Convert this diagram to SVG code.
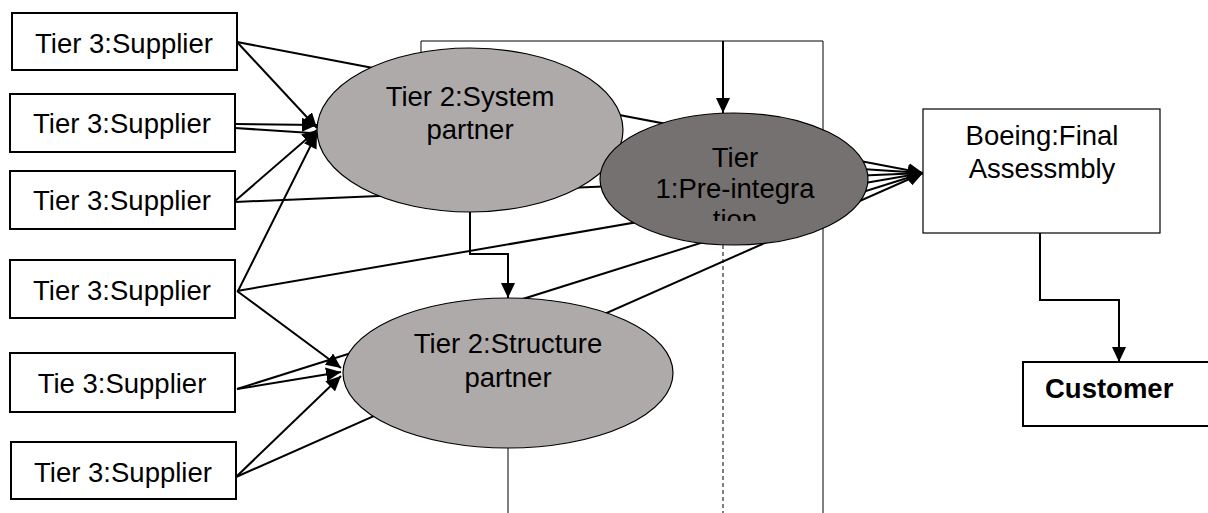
<svg xmlns="http://www.w3.org/2000/svg" width="1208" height="513" viewBox="0 0 1208 513">
<style>
.box{fill:#fff;stroke:#000;stroke-width:2}
.thinbox{fill:#fff;stroke:#000;stroke-width:1.2}
.lbl{font-family:"Liberation Sans",Arial,sans-serif;font-size:27.5px;fill:#000}
.c{text-anchor:middle}
.e1{fill:#aeaaaa;stroke:#000;stroke-width:1.2}
.e2{fill:#767171;stroke:#000;stroke-width:1.2}
.ln{stroke:#000;stroke-width:2;fill:none}
.thin{stroke:#000;stroke-width:1;fill:none}
</style>
<defs>
<marker id="ah" markerUnits="userSpaceOnUse" markerWidth="16" markerHeight="14" refX="15" refY="7" orient="auto">
<path d="M0,0 L15,7 L0,14 Z" fill="#000"/>
</marker>
<clipPath id="clipT1"><rect x="600" y="113" width="270" height="108"/></clipPath>
</defs>
<rect width="1208" height="513" fill="#fff"/>
<g id="frame">
<path class="thin" d="M421,60 V41 H823 V513"/>
<path class="thin" d="M723,245 V513" stroke-dasharray="4,3"/>
<path class="thin" d="M508,448 V513"/>
</g>
<g id="connectors">
<line class="ln" x1="237" y1="42" x2="923" y2="173" marker-end="url(#ah)"/>
<line class="ln" x1="235" y1="128" x2="923" y2="173" marker-end="url(#ah)"/>
<line class="ln" x1="235" y1="202" x2="923" y2="173" marker-end="url(#ah)"/>
<line class="ln" x1="237" y1="291" x2="923" y2="173" marker-end="url(#ah)"/>
<line class="ln" x1="237" y1="389" x2="923" y2="173" marker-end="url(#ah)"/>
<line class="ln" x1="236" y1="477" x2="923" y2="173" marker-end="url(#ah)"/>
<line class="ln" x1="237" y1="42" x2="317" y2="128" marker-end="url(#ah)"/>
<line class="ln" x1="235" y1="124" x2="317" y2="125" marker-end="url(#ah)"/>
<line class="ln" x1="235" y1="201" x2="317" y2="130" marker-end="url(#ah)"/>
<line class="ln" x1="238" y1="291" x2="317" y2="133" marker-end="url(#ah)"/>
<line class="ln" x1="237" y1="291" x2="341" y2="368" marker-end="url(#ah)"/>
<line class="ln" x1="237" y1="389" x2="341" y2="372" marker-end="url(#ah)"/>
<line class="ln" x1="236" y1="477" x2="341" y2="376" marker-end="url(#ah)"/>
<path class="ln" d="M470,212 V254 H508 V298" marker-end="url(#ah)"/>
<path class="ln" d="M723,41 V113" marker-end="url(#ah)"/>
<path class="ln" d="M1040,233 V300 H1119 V362" marker-end="url(#ah)"/>
</g>
<g id="s1"><rect class="box" x="12" y="13" width="225" height="57"/><text class="lbl c" x="124" y="53">Tier 3:Supplier</text></g>
<g id="s2"><rect class="box" x="10" y="94" width="225" height="58"/><text class="lbl c" x="122" y="133">Tier 3:Supplier</text></g>
<g id="s3"><rect class="box" x="10" y="171" width="225" height="58"/><text class="lbl c" x="122" y="210">Tier 3:Supplier</text></g>
<g id="s4"><rect class="box" x="10" y="260" width="225" height="58"/><text class="lbl c" x="122" y="300">Tier 3:Supplier</text></g>
<g id="s5"><rect class="box" x="10" y="353" width="225" height="59"/><text class="lbl c" x="122" y="393">Tie 3:Supplier</text></g>
<g id="s6"><rect class="box" x="11" y="442" width="225" height="57"/><text class="lbl c" x="123" y="482">Tier 3:Supplier</text></g>
<g id="tier2sys"><ellipse class="e1" cx="470" cy="130" rx="153" ry="82"/><text class="lbl c" x="470" y="106">Tier 2:System</text><text class="lbl c" x="470" y="139">partner</text></g>
<g id="tier2str"><ellipse class="e1" cx="508" cy="373" rx="165" ry="75"/><text class="lbl c" x="508" y="353">Tier 2:Structure</text><text class="lbl c" x="508" y="387">partner</text></g>
<g id="tier1"><ellipse class="e2" cx="734" cy="179" rx="134" ry="66"/><g clip-path="url(#clipT1)"><text class="lbl c" x="735" y="167">Tier</text><text class="lbl c" x="735" y="198">1:Pre-integra</text><text class="lbl c" x="735" y="229">tion</text></g></g>
<g id="boeing"><rect class="thinbox" x="923" y="109" width="237" height="124"/><text class="lbl c" x="1042" y="145">Boeing:Final</text><text class="lbl c" x="1042" y="178">Assessmbly</text></g>
<g id="customer"><rect class="box" x="1023" y="362" width="190" height="64"/><text class="lbl" x="1045" y="398" font-weight="bold">Customer</text></g>
</svg>
